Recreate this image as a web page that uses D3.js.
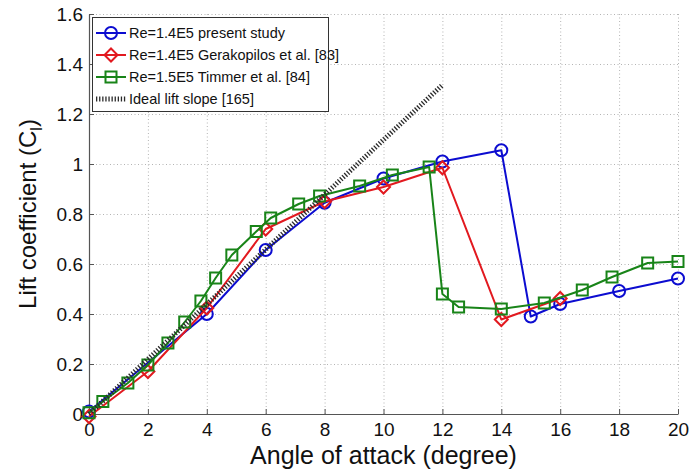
<!DOCTYPE html>
<html>
<head>
<meta charset="utf-8">
<script src="https://cdn.jsdelivr.net/npm/d3@7/dist/d3.min.js"></script>
<style>
  html, body { margin: 0; padding: 0; background: #fff; }
  svg { display: block; font-family: Arial, "Liberation Sans", Helvetica, sans-serif; }
</style>
</head>
<body>
<svg id="chart" width="692" height="470"></svg>
<script>
// ---- data ----
const blueX = [0, 4, 6, 8, 10, 12, 14, 15, 16, 18, 20];
const blueY = [0.01, 0.40, 0.656, 0.845, 0.942, 1.01, 1.055, 0.39, 0.44, 0.492, 0.542];

const redX = [0, 2, 4, 6, 8, 10, 12, 14, 16];
const redY = [-0.01, 0.17, 0.424, 0.74, 0.85, 0.908, 0.985, 0.378, 0.462];

const greenX = [0, 0.47, 1.32, 2.0, 2.68, 3.25, 3.8, 4.3, 4.85, 5.68, 6.17, 7.12, 7.83, 9.19, 10.3, 11.55, 12.0, 12.55, 14.0, 15.46, 16.75, 17.76, 18.97, 20.0];
const greenY = [0.005, 0.05, 0.124, 0.196, 0.284, 0.368, 0.452, 0.544, 0.636, 0.73, 0.784, 0.84, 0.872, 0.912, 0.956, 0.988, 0.48, 0.428, 0.42, 0.444, 0.496, 0.548, 0.604, 0.61];

const idealX = [0, 12];
const idealY = [0, 1.316];

const xTicks = [0, 2, 4, 6, 8, 10, 12, 14, 16, 18, 20];
const xTickLabels = ["0", "2", "4", "6", "8", "10", "12", "14", "16", "18", "20"];
const yTicks = [0, 0.2, 0.4, 0.6, 0.8, 1.0, 1.2, 1.4, 1.6];
const yTickLabels = ["0", "0.2", "0.4", "0.6", "0.8", "1", "1.2", "1.4", "1.6"];

const legendLabels = [
  "Re=1.4E5 present study",
  "Re=1.4E5 Gerakopilos et al. [83]",
  "Re=1.5E5 Timmer et al. [84]",
  "Ideal lift slope [165]"
];

// ---- layout ----
const svg = d3.select("#chart");
const x = d3.scaleLinear().domain([0, 20]).range([89, 678]);
const y = d3.scaleLinear().domain([0, 1.6]).range([414, 14]);

const colBlue = "#0c0cd0", colRed = "#e2191f", colGreen = "#188418";

// grid
const grid = svg.append("g").attr("stroke", "#b4b4b4").attr("stroke-width", 1)
  .attr("stroke-dasharray", "1,2.5");
grid.selectAll("line.v").data(xTicks.filter(d => d > 0)).join("line")
  .attr("x1", d => x(d) + 0.5).attr("x2", d => x(d) + 0.5)
  .attr("y1", y(1.6)).attr("y2", y(0));
grid.selectAll("line.h").data(yTicks.filter(d => d > 0)).join("line")
  .attr("y1", d => Math.round(y(d)) + 0.5).attr("y2", d => Math.round(y(d)) + 0.5)
  .attr("x1", x(0)).attr("x2", x(20));

// axes
const xAxis = d3.axisBottom(x).tickValues(xTicks)
  .tickFormat((d, i) => xTickLabels[i]).tickSizeInner(-5).tickSizeOuter(0).tickPadding(9);
const yAxis = d3.axisLeft(y).tickValues(yTicks)
  .tickFormat((d, i) => yTickLabels[i]).tickSizeInner(-5).tickSizeOuter(0).tickPadding(6);

const gx = svg.append("g").attr("transform", `translate(0,${y(0)})`).call(xAxis);
const gy = svg.append("g").attr("transform", `translate(${x(0)},0)`).call(yAxis);
[gx, gy].forEach(g => {
  g.select(".domain").attr("stroke", "#555").attr("stroke-width", 1.2);
  g.selectAll(".tick line").attr("stroke", "#555");
  g.selectAll(".tick text").attr("fill", "#111").style("font-size", "19px")
    .style("font-family", "Arial, 'Liberation Sans', sans-serif");
});

// axis titles
svg.append("text").attr("x", (x(0) + x(20)) / 2).attr("y", 464)
  .attr("text-anchor", "middle").attr("fill", "#111")
  .style("font-size", "25px").text("Angle of attack (degree)");

const yt = svg.append("text").attr("transform", `translate(36,${(y(0) + y(1.6)) / 2}) rotate(-90)`)
  .attr("text-anchor", "middle").attr("fill", "#111").style("font-size", "24px");
yt.append("tspan").text("Lift coefficient (C");
yt.append("tspan").attr("dy", 6).style("font-size", "16px").text("l");
yt.append("tspan").attr("dy", -6).text(")");

// marker helpers
function drawMarker(g, shape, cx, cy, color) {
  if (shape === "circle") {
    g.append("circle").attr("cx", cx).attr("cy", cy).attr("r", 6)
      .attr("fill", "none").attr("stroke", color).attr("stroke-width", 2);
  } else if (shape === "diamond") {
    const s = 6.5;
    g.append("path").attr("d", `M${cx},${cy - s}L${cx + s},${cy}L${cx},${cy + s}L${cx - s},${cy}Z`)
      .attr("fill", "none").attr("stroke", color).attr("stroke-width", 2);
  } else if (shape === "square") {
    const s = 5.5;
    g.append("rect").attr("x", cx - s).attr("y", cy - s).attr("width", 2 * s).attr("height", 2 * s)
      .attr("fill", "none").attr("stroke", color).attr("stroke-width", 2);
  }
}

const series = [
  { xs: blueX, ys: blueY, color: colBlue, shape: "circle" },
  { xs: redX, ys: redY, color: colRed, shape: "diamond" },
  { xs: greenX, ys: greenY, color: colGreen, shape: "square" }
];
const line = d3.line().x(d => x(d[0])).y(d => y(d[1]));

series.forEach(s => {
  const pts = s.xs.map((v, i) => [v, s.ys[i]]);
  const g = svg.append("g");
  g.append("path").attr("d", line(pts)).attr("fill", "none")
    .attr("stroke", s.color).attr("stroke-width", 2).attr("stroke-linejoin", "round");
  pts.forEach(p => drawMarker(g, s.shape, x(p[0]), y(p[1]), s.color));
});

// ideal lift slope
const idealPts = idealX.map((v, i) => [v, idealY[i]]);
svg.append("path").attr("d", line(idealPts)).attr("fill", "none")
  .attr("stroke", "#2a2a2a").attr("stroke-width", 5).attr("stroke-dasharray", "1.3,1.8");

// legend
const lg = svg.append("g");
lg.append("rect").attr("x", 92.5).attr("y", 17.5).attr("width", 236).attr("height", 94)
  .attr("fill", "#fff").attr("stroke", "#333").attr("stroke-width", 1);
const rowY = [33, 55, 77, 99];
const legendItems = [
  { color: colBlue, shape: "circle" },
  { color: colRed, shape: "diamond" },
  { color: colGreen, shape: "square" },
  { color: "#2a2a2a", shape: "ideal" }
];
legendItems.forEach((it, i) => {
  const yy = rowY[i];
  if (it.shape === "ideal") {
    lg.append("line").attr("x1", 96).attr("x2", 126).attr("y1", yy).attr("y2", yy)
      .attr("stroke", it.color).attr("stroke-width", 5).attr("stroke-dasharray", "1.3,1.8");
  } else {
    lg.append("line").attr("x1", 96).attr("x2", 126).attr("y1", yy).attr("y2", yy)
      .attr("stroke", it.color).attr("stroke-width", 2);
    drawMarker(lg, it.shape, 111, yy, it.color);
  }
  lg.append("text").attr("x", 129).attr("y", yy + 5).attr("fill", "#111")
    .style("font-size", "14.5px").text(legendLabels[i]);
});
</script>
</body>
</html>
